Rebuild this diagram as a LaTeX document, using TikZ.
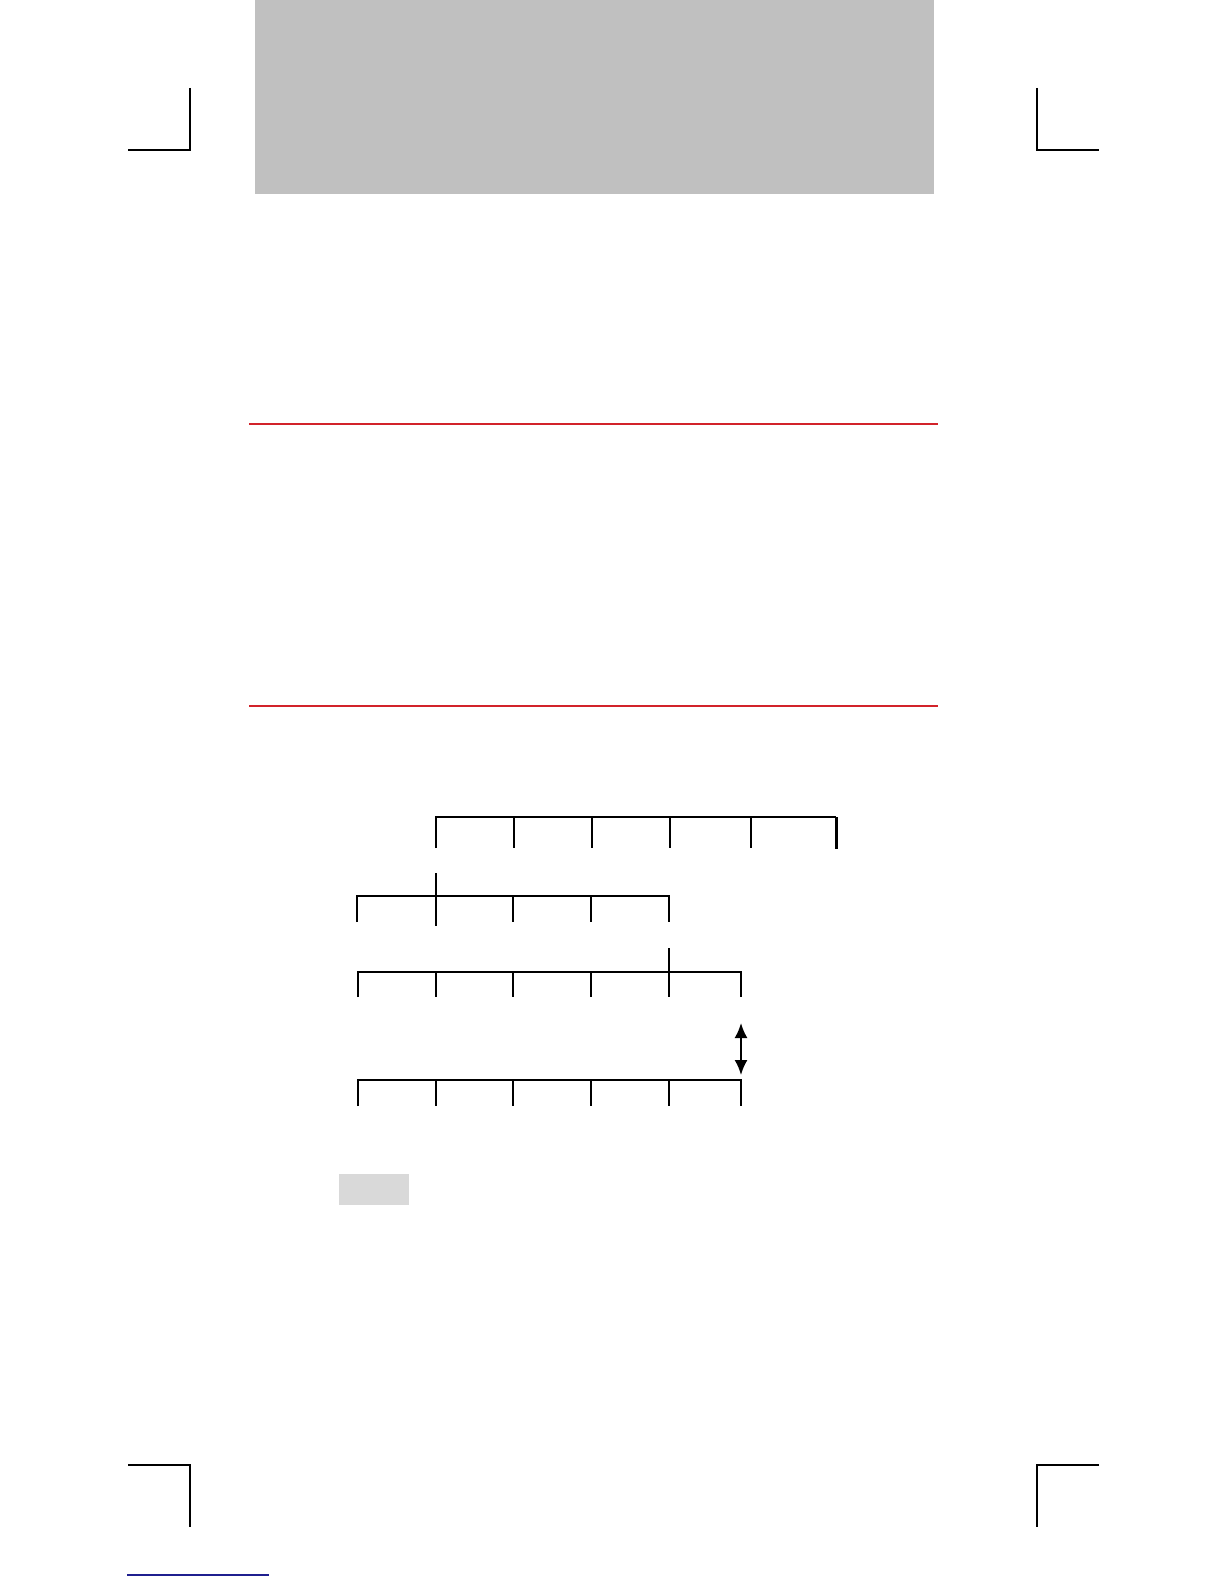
\documentclass[tikz,border=0pt]{standalone}
\usetikzlibrary{arrows.meta}
\definecolor{hdrgray}{HTML}{C0C0C0}
\definecolor{boxgray}{HTML}{D9D9D9}
\definecolor{rulered}{HTML}{D2232A}
\definecolor{linkblue}{HTML}{1F1F8F}
\tikzset{
  cropmark/.style={line width=1.5pt, black},
  redrule/.style={line width=2pt, rulered},
  ruler/.style={line width=2pt, black, line cap=butt},
  bigtick/.style={line width=3pt, black}
}
\begin{document}
\begin{tikzpicture}[x=1pt,y=-1pt]
\useasboundingbox[fill=white] (0,0) rectangle (1224,1584);
% header gray block
\fill[hdrgray] (255,0) rectangle (934,194);
% crop marks
\draw[cropmark] (190,88) -- (190,150) -- (128,150);
\draw[cropmark] (1037,88) -- (1037,150) -- (1099,150);
\draw[cropmark] (128,1465) -- (190,1465) -- (190,1527);
\draw[cropmark] (1099,1465) -- (1037,1465) -- (1037,1527);
% red rules
\draw[redrule] (249,424) -- (938,424);
\draw[redrule] (249,706) -- (938,706);
% row 1
\draw[ruler] (436,848) -- (436,817) -- (836,817);
\foreach \x in {514,592,670,751} \draw[ruler] (\x,817) -- (\x,848);
\draw[bigtick] (836,817) -- (836,849);
% row 2
\draw[ruler] (436,873) -- (436,926);
\draw[ruler] (357,922) -- (357,896) -- (669,896) -- (669,922);
\foreach \x in {513,591} \draw[ruler] (\x,896) -- (\x,922);
% row 3
\draw[ruler] (669,948) -- (669,997);
\draw[ruler] (358,997) -- (358,972) -- (741,972) -- (741,997);
\foreach \x in {436,513,591} \draw[ruler] (\x,972) -- (\x,997);
% arrow
\coordinate (atop) at (741,1023);
\coordinate (abot) at (741,1075);
\draw[line width=2pt, {Latex[length=15pt,width=13pt]}-{Latex[length=15pt,width=13pt]}] (atop) -- (abot);
% row 4
\draw[ruler] (358,1106) -- (358,1080) -- (741,1080) -- (741,1106);
\foreach \x in {436,513,591,669} \draw[ruler] (\x,1080) -- (\x,1106);
% small gray box
\fill[boxgray] (339,1174) rectangle (409,1205);
% blue underline
\draw[linkblue, line width=1.2pt] (127,1575) -- (269,1575);
\end{tikzpicture}
\end{document}
